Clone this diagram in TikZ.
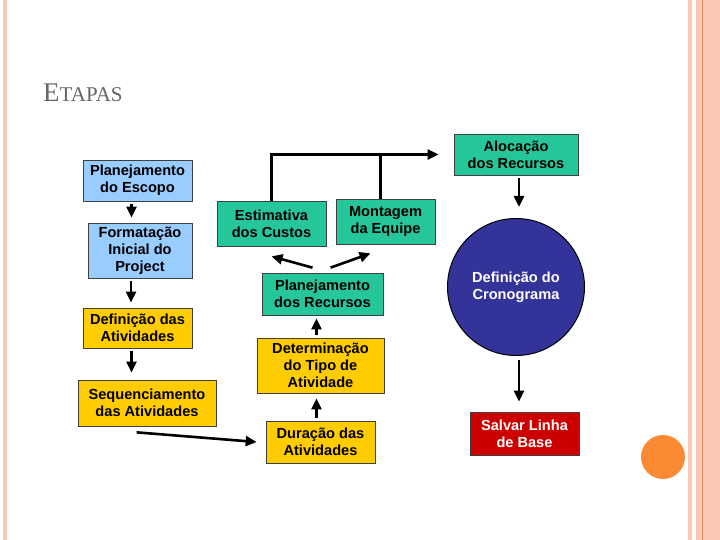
\documentclass[tikz,border=0pt]{standalone}
\usepackage{fontspec}
\setmainfont{Liberation Sans}
\newfontfamily\tieude{Liberation Serif}
\usetikzlibrary{arrows.meta,calc}
\definecolor{xanhnhat}{RGB}{153,204,255}
\definecolor{xanhla}{RGB}{38,198,155}
\definecolor{vang}{RGB}{255,204,0}
\definecolor{tim}{RGB}{51,51,153}
\definecolor{dodam}{RGB}{204,0,0}
\definecolor{hong}{RGB}{249,200,180}
\definecolor{cam}{RGB}{250,138,52}
\definecolor{camdam}{RGB}{228,140,100}
\begin{document}
\begin{tikzpicture}[x=1pt, y=-1pt, >={Triangle[length=11pt,width=10pt]},
    hop/.style={draw=black!75, line width=0.7pt, align=center, inner sep=0pt,
        font=\fontsize{14.6}{16.8}\selectfont\bfseries},
    muiten/.style={->, line width=2.6pt}]
    \useasboundingbox (0,0) rectangle (720,540);
    % 1. Nền trang chiếu
    \fill[hong] (3,0) rectangle (7,540);
    \fill[hong] (688,0) rectangle (692,540);
    \fill[hong] (696,0) rectangle (720,540);
    \draw[camdam, line width=1pt] (702.5,0) -- (702.5,540);
    \fill[cam] (663,457) circle (22pt);
    \node[anchor=base west, inner sep=0pt, text=black!60] (tieude) at (43,102)
        {\tieude\fontsize{27}{27}\selectfont E\fontsize{21}{21}\selectfont TAPAS};

    % 2. Cột bên trái
    \node[hop, fill=xanhnhat, minimum width=109pt, minimum height=41pt] (escopo) at (137.5,180.5) {Planejamento\\do Escopo};
    \node[hop, fill=xanhnhat, minimum width=104pt, minimum height=55pt] (formatacao) at (140,250.5) {Formatação\\Inicial do\\Project};
    \node[hop, fill=vang, minimum width=109pt, minimum height=40pt] (definicao) at (137.5,328) {Definição das\\Atividades};
    \node[hop, fill=vang, minimum width=138pt, minimum height=46pt] (sequencia) at (147,403) {Sequenciamento\\das Atividades};

    % 3. Cột giữa
    \node[hop, fill=vang, minimum width=109pt, minimum height=42pt] (duracao) at (320.5,442) {Duração das\\Atividades};
    \node[hop, fill=vang, minimum width=127pt, minimum height=55pt] (tipo) at (320.5,365.5) {Determinação\\do Tipo de\\Atividade};
    \node[hop, fill=xanhla, minimum width=121pt, minimum height=42pt] (recursos) at (322.5,294) {Planejamento\\dos Recursos};
    \node[hop, fill=xanhla, minimum width=109pt, minimum height=45pt] (custos) at (271.5,223.5) {Estimativa\\dos Custos};
    \node[hop, fill=xanhla, minimum width=99pt, minimum height=45pt] (equipe) at (385.5,221.5) {Montagem\\da Equipe};

    % 4. Cột bên phải
    \node[hop, fill=xanhla, minimum width=124pt, minimum height=41pt] (alocacao) at (516,154.5) {Alocação\\dos Recursos};
    \node[hop, circle, draw=black, line width=1pt, fill=tim, text=white, minimum size=137pt] (cronograma) at (516,287) {Definição do\\Cronograma};
    \node[hop, fill=dodam, text=white, minimum width=109pt, minimum height=43pt] (linhabase) at (524.5,433.5) {Salvar Linha\\de Base};

    % 5. Các mũi tên
    \draw[muiten, shorten <=3pt, shorten >=5pt] ([xshift=-6pt]escopo.south) -- ([xshift=-6pt]escopo.south |- formatacao.north);
    \draw[muiten, shorten <=3pt, shorten >=5pt] ([xshift=-9pt]formatacao.south) -- ([xshift=-9pt]formatacao.south |- definicao.north);
    \draw[muiten, shorten <=3pt, shorten >=7pt] ([xshift=-6pt]definicao.south) -- ([xshift=-6pt]definicao.south |- sequencia.north);
    \draw[muiten] ($(sequencia.south west)+(59,6)$) -- ($(duracao.west)+(-9,0)$);
    \draw[muiten, shorten <=3pt, shorten >=5pt] ([xshift=-4pt]duracao.north) -- ([xshift=-4pt]duracao.north |- tipo.south);
    \draw[muiten, shorten <=3pt, shorten >=3pt] ([xshift=-4pt]tipo.north) -- ([xshift=-4pt]tipo.north |- recursos.south);
    \draw[muiten] ($(recursos.north)+(-10,-5)$) -- ($(custos.south)+(0,10)$);
    \draw[muiten] ($(recursos.north)+(8,-5)$) -- ($(equipe.south)+(-15,9)$);
    \draw[muiten, shorten >=15pt] (custos.north) |- (alocacao.west);
    \draw[line width=2.6pt] ([xshift=-5pt]equipe.north) -- ([xshift=-5pt]equipe.north |- alocacao.west);
    \draw[muiten, shorten <=3pt, shorten >=11pt] ([xshift=3pt]alocacao.south) -- ([xshift=3pt]alocacao.south |- cronograma.north);
    \draw[muiten, shorten <=4pt, shorten >=10pt] ([xshift=3pt]cronograma.south) -- ([xshift=3pt]cronograma.south |- linhabase.north);
\end{tikzpicture}
\end{document}
